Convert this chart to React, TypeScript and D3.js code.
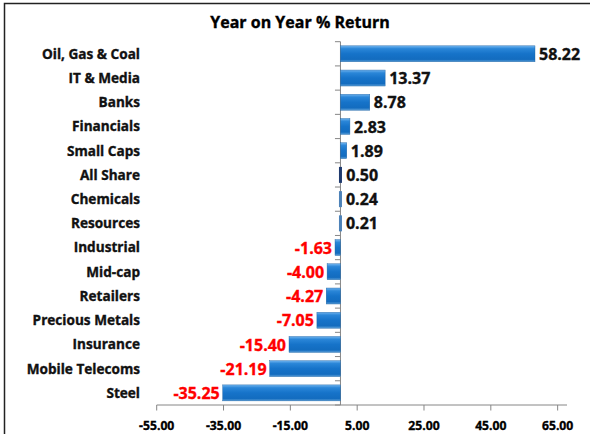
import React from "react";
import * as d3 from "d3";

const categories = [
  "Oil, Gas & Coal",
  "IT & Media",
  "Banks",
  "Financials",
  "Small Caps",
  "All Share",
  "Chemicals",
  "Resources",
  "Industrial",
  "Mid-cap",
  "Retailers",
  "Precious Metals",
  "Insurance",
  "Mobile Telecoms",
  "Steel",
];
const returns = [58.22, 13.37, 8.78, 2.83, 1.89, 0.5, 0.24, 0.21, -1.63, -4.0, -4.27, -7.05, -15.4, -21.19, -35.25];
const tickValues = [-55, -35, -15, 5, 25, 45, 65];
const title = "Year on Year % Return";
const benchmark = "All Share";

const W = 590;
const H = 434;
const FONT = "'Open Sans', Lato, sans-serif";

const App = () => {
  const x = d3.scaleLinear().domain([-55, 67.8]).range([156.7, 567]);
  const y = d3
    .scaleBand()
    .domain(categories)
    .range([41.7, 405])
    .paddingInner(0.34)
    .paddingOuter(0.17);

  const x0 = x(0);
  const step = y.step();
  const top = 41.7;
  const bottom = 405;

  // bars that are only a sliver wide render greyish in the original
  const barFill = (name, v) => {
    if (name === benchmark) return "#1f3a6e";
    if (Math.abs(v) < 0.3) return "#4d82b8";
    return "url(#barGrad)";
  };

  // heavier text, like Calibri bold
  const bold = (color) => ({
    fontFamily: FONT,
    fontWeight: 700,
    fill: color,
    stroke: color,
    strokeWidth: 0.35,
  });

  return (
    <svg width={W} height={H} style={{ display: "block", position: "absolute", left: 0, top: 0 }}>
      <defs>
        <linearGradient id="barGrad" x1="0" y1="0" x2="0" y2="1">
          <stop offset="0" stopColor="#6fb3ee" />
          <stop offset="0.18" stopColor="#2a86d8" />
          <stop offset="0.5" stopColor="#1673c9" />
          <stop offset="0.85" stopColor="#136cbf" />
          <stop offset="1" stopColor="#5b9fd8" />
        </linearGradient>
      </defs>
      <rect x={0} y={0} width={W} height={H} fill="#fff" />
      <rect x={4.5} y={3.5} width={W + 20} height={H + 20} fill="none" stroke="#222" strokeWidth={1.5} />

      <text x={300} y={28} textAnchor="middle" fontSize={16} {...bold("#000")}>
        {title}
      </text>

      {/* category axis */}
      <line x1={x0} x2={x0} y1={top} y2={bottom} stroke="#868686" strokeWidth={1} />
      {d3.range(categories.length + 1).map((i) => (
        <line
          key={"ct" + i}
          x1={x0 - 5.5}
          x2={x0}
          y1={top + i * step}
          y2={top + i * step}
          stroke="#868686"
          strokeWidth={1}
        />
      ))}

      {/* bars */}
      {categories.map((c, i) => {
        const v = returns[i];
        const w = Math.abs(x(v) - x0);
        const tiny = Math.abs(v) < 1;
        const xs = tiny ? x0 - 1.5 : Math.min(x(v), x0);
        return (
          <rect
            key={c}
            x={xs}
            y={y(c)}
            width={tiny ? 3 : w}
            height={y.bandwidth()}
            fill={barFill(c, v)}
            stroke={tiny ? "none" : "#1a5fa0"}
            strokeWidth={0.4}
          />
        );
      })}

      {/* value axis */}
      <line x1={x(-55)} x2={567} y1={bottom} y2={bottom} stroke="#868686" strokeWidth={1} />
      {tickValues.map((t) => (
        <g key={"vt" + t}>
          <line x1={x(t)} x2={x(t)} y1={bottom} y2={bottom + 5.5} stroke="#868686" strokeWidth={1} />
          <text x={x(t)} y={430} textAnchor="middle" fontSize={12.2} {...bold("#000")}>
            {t.toFixed(2)}
          </text>
        </g>
      ))}

      {/* category labels */}
      {categories.map((c) => (
        <text
          key={"cl" + c}
          x={140}
          y={y(c) + y.bandwidth() / 2}
          dy="0.36em"
          textAnchor="end"
          fontSize={13.6}
          {...bold("#111")}
        >
          {c}
        </text>
      ))}

      {/* value labels */}
      {categories.map((c, i) => {
        const v = returns[i];
        const pos = v >= 0;
        return (
          <text
            key={"vl" + c}
            x={pos ? Math.max(x(v), x0 + 1.5) + 4 : x(v) - 3}
            y={y(c) + y.bandwidth() / 2}
            dy="0.38em"
            textAnchor={pos ? "start" : "end"}
            fontSize={16}
            {...bold(pos ? "#111" : "#ff0000")}
          >
            {v.toFixed(2)}
          </text>
        );
      })}
    </svg>
  );
};

export default App;
